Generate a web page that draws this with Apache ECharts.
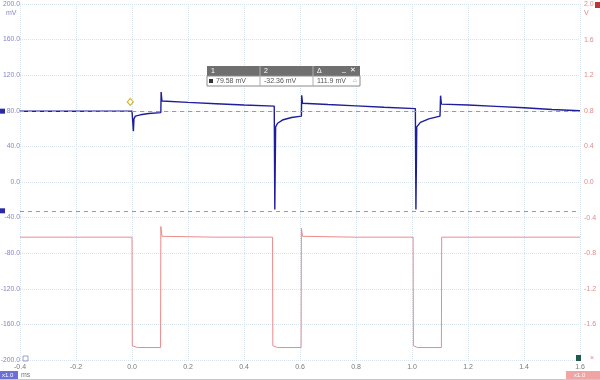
<!DOCTYPE html>
<html><head><meta charset="utf-8">
<script src="https://cdn.jsdelivr.net/npm/echarts@6/dist/echarts.min.js"></script>
<style>html,body{margin:0;padding:0;background:#fff}#c{width:600px;height:380px}</style>
</head><body><div id="c"></div>
<script>
// Channel A (mV) trace: time (ms) and value
var blueT = [-0.4,-0.3,-0.2,-0.1,0.0,0.004,0.005,0.007,0.012,0.03,0.06,0.103,0.104,0.107,0.2,0.3,0.4,0.508,0.510,0.513,0.52,0.54,0.57,0.605,0.606,0.609,0.7,0.8,0.9,1.012,1.014,1.017,1.03,1.06,1.10,1.102,1.105,1.2,1.3,1.4,1.5,1.6];
var blueV = [79.5,79.6,79.5,79.6,79.6,79.5,57,71,74,75.5,77,78,101,91,89.5,88,86.5,85.2,-31,62,66,70,72.5,74,97.5,88.5,87,85.5,84,82.5,-31,62,67,71,74,97,87.5,86.5,85,83.5,81.5,80];
// Channel B (V) trace
var redT = [-0.4,0.0,0.001,0.02,0.102,0.103,0.107,0.3,0.502,0.503,0.52,0.604,0.605,0.609,0.8,1.004,1.005,1.02,1.105,1.106,1.11,1.6];
var redV = [-0.62,-0.62,-1.84,-1.86,-1.86,-0.5,-0.61,-0.62,-0.62,-1.84,-1.86,-1.86,-0.52,-0.61,-0.62,-0.62,-1.84,-1.86,-1.86,-0.62,-0.62,-0.62];
// Cursor rulers (mV) and measurement readout
var cursorLevels = [79.58, -32.36];
var readHeads = ['1','2','\u0394'];
var readVals = ['79.58 mV','-32.36 mV','111.9 mV'];
var triggerPt = [-0.006, 90];

var blueData = blueT.map(function(t,i){return [t, blueV[i]];});
var redData = redT.map(function(t,i){return [t, redV[i]];});
var font = 'Liberation Sans, Arial, sans-serif';
var grid = {left:20, right:20, top:4, bottom:20, containLabel:false, outerBoundsMode:'none'};
var chart = echarts.init(document.getElementById('c'));
var split = {show:true, lineStyle:{color:'#d6e2ee', type:'dotted', width:1}};
chart.setOption({
  animation:false,
  grid:grid,
  xAxis:{type:'value', min:-0.4, max:1.6, interval:0.2,
    axisLine:{show:false}, axisTick:{show:false}, splitLine:split,
    axisLabel:{fontSize:7, color:'#7a7a7a', margin:4, fontFamily:font,
      formatter:function(v){return v.toFixed(1);}}},
  yAxis:[
    {type:'value', min:-200, max:200, interval:40, position:'left',
     axisLine:{show:false}, axisTick:{show:false}, splitLine:split,
     axisLabel:{fontSize:6.8, color:'#8585c4', margin:0, fontFamily:font,
       formatter:function(v){return v.toFixed(1);}}},
    {type:'value', min:-2, max:2, interval:0.4, position:'right',
     axisLine:{show:false}, axisTick:{show:false}, splitLine:{show:false},
     axisLabel:{fontSize:7, color:'#e08a8a', margin:4, fontFamily:font, showMinLabel:false,
       formatter:function(v){return v.toFixed(1);}}}
  ],
  series:[
    {type:'line', yAxisIndex:1, data:redData, showSymbol:false, symbol:'none',
     lineStyle:{color:'#ec8a8a', width:1}, z:2},
    {type:'line', yAxisIndex:0, data:blueData, showSymbol:false, symbol:'none',
     lineStyle:{color:'#1e1e9c', width:1.4}, z:3,
     markLine:{silent:true, symbol:'none', label:{show:false},
       lineStyle:{color:'#9a9a9a', type:[4,4], width:1},
       data:cursorLevels.map(function(v){return {yAxis:v};})},
     markPoint:{symbol:'diamond', symbolSize:[6,7], label:{show:false},
       itemStyle:{color:'rgba(0,0,0,0)', borderColor:'#d8b428', borderWidth:1.2},
       data:[{coord:triggerPt}]}}
  ]
});

var g = [];
// unit labels
g.push({type:'text', left:6, top:10, style:{text:'mV', fontSize:7, fill:'#8585c4', fontFamily:font}});
g.push({type:'text', left:584, top:10, style:{text:'V', fontSize:7, fill:'#e08a8a', fontFamily:font}});
// top right channel B marker
g.push({type:'rect', shape:{x:595, y:2, width:5, height:6}, style:{fill:'#b83838'}});
// cursor markers on left
cursorLevels.forEach(function(v){
  var p = chart.convertToPixel({yAxisIndex:0}, v);
  g.push({type:'rect', shape:{x:0, y:p-2.5, width:5, height:5}, style:{fill:'#2a2aa8'}});
});
// readout box
var bx=207, by=66, cw=[53,53,47];
g.push({type:'rect', shape:{x:bx, y:by, width:153, height:10}, style:{fill:'#6f6f6f'}});
g.push({type:'rect', shape:{x:bx, y:by+10, width:153, height:10}, style:{fill:'#fff', stroke:'#8a8a8a', lineWidth:1}});
var cx = bx;
for (var i=0;i<3;i++){
  g.push({type:'text', left:cx+4, top:by+1.5, style:{text:readHeads[i], fontSize:7, fill:'#fff', fontFamily:font}});
  g.push({type:'text', left:cx+(i==0?9:4), top:by+11.5, style:{text:readVals[i], fontSize:7, fill:'#555', fontFamily:font}});
  if(i>0){ g.push({type:'line', shape:{x1:cx, y1:by, x2:cx, y2:by+20}, style:{stroke:'#b0b0b0', lineWidth:1}}); }
  cx += cw[i];
}
g.push({type:'rect', shape:{x:bx+2, y:by+13, width:4, height:4}, style:{fill:'#333'}});
g.push({type:'text', left:342, top:by, style:{text:'_', fontSize:7, fill:'#fff', fontFamily:font}});
g.push({type:'text', left:350, top:by+1, style:{text:'\u2715', fontSize:7, fill:'#fff', fontFamily:font}});
g.push({type:'text', left:353, top:by+11, style:{text:'\u2302', fontSize:6, fill:'#777', fontFamily:font}});
// bottom left / right boxes
g.push({type:'rect', shape:{x:0, y:371, width:18, height:8}, style:{fill:'#6e6ed8'}});
g.push({type:'text', left:2, top:372, style:{text:'x1.0', fontSize:6, fill:'#fff', fontFamily:font}});
g.push({type:'text', left:21, top:371.5, style:{text:'ms', fontSize:7, fill:'#777', fontFamily:font}});
g.push({type:'rect', shape:{x:566, y:371, width:34, height:8}, style:{fill:'#f0a4a4'}});
g.push({type:'text', left:574, top:372, style:{text:'x1.0', fontSize:6, fill:'#fff', fontFamily:font}});
g.push({type:'rect', shape:{x:23, y:356, width:5, height:5}, style:{fill:'none', stroke:'#8585c4', lineWidth:0.8}});
g.push({type:'rect', shape:{x:576, y:355, width:5, height:6}, style:{fill:'#1f5a4a'}});
g.push({type:'text', left:590, top:355, style:{text:'\u00d7', fontSize:7, fill:'#e08a8a', fontFamily:font}});
g.push({type:'line', shape:{x1:0, y1:379.5, x2:600, y2:379.5}, style:{stroke:'#c8c8c8', lineWidth:1}});
chart.setOption({graphic:g});
</script></body></html>
